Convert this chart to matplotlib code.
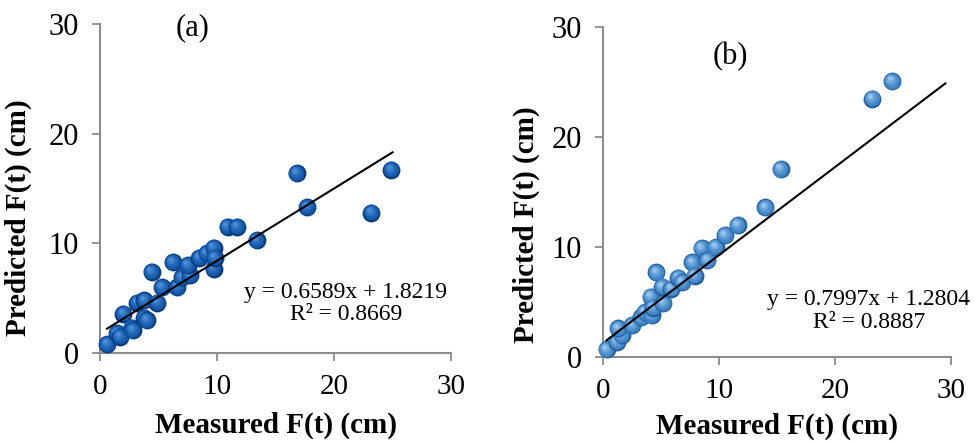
import numpy as np
import matplotlib.pyplot as plt
from matplotlib.transforms import offset_copy
from matplotlib.colors import to_rgb

# ---- data ----
meas_a = [0.6, 1.45, 1.7, 2.0, 2.7, 2.8, 3.2, 3.8, 3.8, 4.0, 4.9, 5.3, 4.4, 6.2, 6.6,
          7.0, 7.7, 7.5, 8.5, 9.1, 9.7, 9.7, 9.8, 10.9, 11.7, 13.4, 16.8, 17.7, 23.2, 24.9]
pred_a = [0.8, 1.8, 1.5, 3.6, 2.3, 2.1, 4.6, 4.8, 3.2, 3.0, 4.6, 6.0, 7.4, 8.3, 6.0,
          6.9, 7.1, 8.0, 8.7, 9.1, 9.6, 7.7, 8.7, 11.5, 11.5, 10.3, 16.4, 13.3, 12.8, 16.7]

meas_b = [0.3, 1.2, 1.6, 1.3, 2.5, 3.3, 3.6, 4.2, 4.1, 4.3, 5.2, 4.6, 5.1, 5.9, 6.5,
          6.8, 7.7, 7.9, 8.5, 9.0, 9.7, 10.5, 11.6, 14.0, 15.3, 23.2, 24.9]
pred_b = [0.7, 1.4, 2.0, 2.6, 2.9, 3.6, 4.1, 3.8, 5.5, 4.5, 4.9, 7.7, 6.4, 6.2, 7.2,
          6.8, 8.6, 7.4, 9.9, 8.8, 10.0, 11.1, 12.0, 13.6, 17.1, 23.5, 25.1]

fit_a = (0.6589, 1.8219)
fit_b = (0.7997, 1.2804)
line_a_x = [0.6, 25.0]
line_b_x = [0.3, 29.5]

eq_a = ["y = 0.6589x + 1.8219", "R² = 0.8669"]
eq_b = ["y = 0.7997x + 1.2804", "R² = 0.8887"]
ticks = [0, 10, 20, 30]

plt.rcParams['font.family'] = ['Liberation Serif', 'DejaVu Serif']

fig = plt.figure(figsize=(9.75, 4.43), dpi=100)
ax_a = fig.add_axes([0.1026, 0.2032, 0.36, 0.7427])
ax_b = fig.add_axes([0.6185, 0.194, 0.357, 0.745])


def blend(c1, c2, f):
    a = np.array(to_rgb(c1))
    b = np.array(to_rgb(c2))
    return tuple(a + (b - a) * f)


def spheres(ax, xs, ys, dark, base, light, size=165):
    # fake a shaded ball with stacked circles
    for x, y in zip(xs, ys):
        ax.scatter([x], [y], s=size, color=dark, lw=0, zorder=3, clip_on=False)
        for f in np.linspace(0.15, 1, 8):
            s = size * (1 - 0.8 * f) ** 2
            col = blend(base, light, f ** 1.6)
            tr = offset_copy(ax.transData, fig=fig, x=-1.7 * f, y=2.0 * f, units='points')
            ax.scatter([x], [y], s=s, color=col, lw=0, zorder=3, transform=tr, clip_on=False)


spheres(ax_a, meas_a, pred_a, '#083a7c', '#0f52a6', '#4a8fd8')
spheres(ax_b, meas_b, pred_b, '#22609f', '#3a7fc3', '#96c6ee')

for ax, fit, lx in [(ax_a, fit_a, line_a_x), (ax_b, fit_b, line_b_x)]:
    lx = np.array(lx)
    ax.plot(lx, fit[0] * lx + fit[1], color='black', lw=1.5, zorder=4)

for ax in [ax_a, ax_b]:
    ax.set_xlim(0, 30)
    ax.set_ylim(0, 30)
    ax.set_xticks(ticks)
    ax.set_yticks(ticks)
    ax.spines['right'].set_visible(False)
    ax.spines['top'].set_visible(False)
    ax.spines['left'].set_color('#8c8c8c')
    ax.spines['bottom'].set_color('#8c8c8c')
    ax.spines['left'].set_linewidth(1.5)
    ax.spines['bottom'].set_linewidth(1.5)
    ax.tick_params(axis='both', direction='out', length=6, width=1.3, color='#8c8c8c')
    ax.tick_params(axis='y', labelsize=22, pad=9)
    ax.tick_params(axis='x', labelsize=21, pad=9)
    ax.set_xlabel("Measured F(t) (cm)", fontsize=21, fontweight='bold')
    ax.set_ylabel("Predicted F(t) (cm)", fontsize=21, fontweight='bold')

ax_a.xaxis.set_label_coords(0.50, -0.178)
ax_b.xaxis.set_label_coords(0.50, -0.168)
ax_a.yaxis.set_label_coords(-0.194, 0.41)
ax_b.yaxis.set_label_coords(-0.181, 0.40)

ax_a.text(0.265, 0.99, "(a)", transform=ax_a.transAxes, fontsize=22, ha='center', va='center')
ax_b.text(0.365, 0.91, "(b)", transform=ax_b.transAxes, fontsize=22, ha='center', va='center')

ax_a.text(0.70, 0.185, eq_a[0], transform=ax_a.transAxes, fontsize=17, ha='center', va='center')
ax_a.text(0.70, 0.118, eq_a[1], transform=ax_a.transAxes, fontsize=17, ha='center', va='center')
ax_b.text(0.764, 0.173, eq_b[0], transform=ax_b.transAxes, fontsize=17, ha='center', va='center')
ax_b.text(0.764, 0.106, eq_b[1], transform=ax_b.transAxes, fontsize=17, ha='center', va='center')

fig.savefig("out.png", dpi=100)
